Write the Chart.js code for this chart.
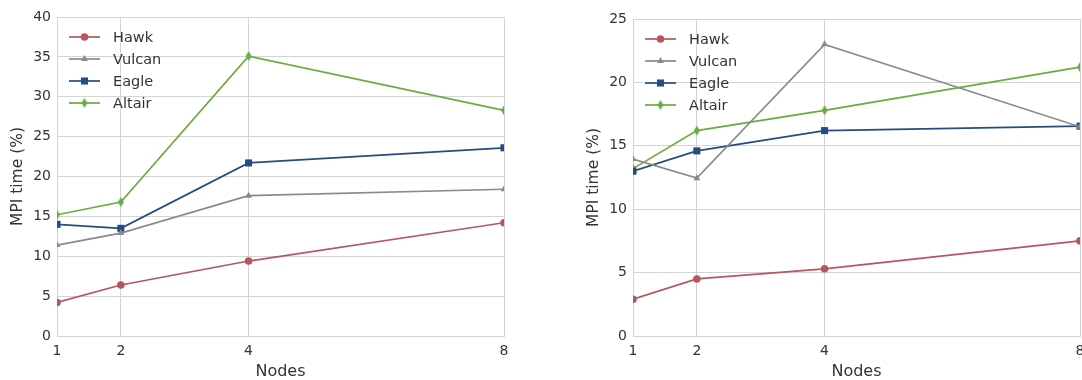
<!DOCTYPE html>
<html>
<head>
<meta charset="utf-8">
<script src="https://cdn.jsdelivr.net/npm/chart.js@4"></script>
<style>
    html, body { margin: 0; padding: 0; background: #fff; overflow: hidden; }
    .wrap { position: absolute; top: 0; height: 380px; overflow: hidden; }
    #leftWrap { left: 0; width: 540px; }
    #rightWrap { left: 576px; width: 506px; }
</style>
</head>
<body>
<div class="wrap" id="leftWrap"><canvas id="leftChart" width="540" height="386"></canvas></div>
<div class="wrap" id="rightWrap"><canvas id="rightChart" width="516" height="386"></canvas></div>
<script>
// data
const nodes = [1, 2, 4, 8];
const seriesNames = ['Hawk', 'Vulcan', 'Eagle', 'Altair'];

const leftHawk = [4.2, 6.4, 9.4, 14.2];
const leftVulcan = [11.4, 12.9, 17.6, 18.4];
const leftEagle = [14.0, 13.5, 21.7, 23.6];
const leftAltair = [15.2, 16.8, 35.1, 28.3];

const rightHawk = [2.9, 4.5, 5.3, 7.5];
const rightVulcan = [13.95, 12.45, 23.0, 16.5];
const rightEagle = [13.0, 14.6, 16.2, 16.55];
const rightAltair = [13.2, 16.2, 17.8, 21.2];

const colors = ['#b5575c', '#8a8a8a', '#264c80', '#6aab3d'];
const gridColor = '#d4d4d4';
const textColor = '#333333';
const fontFamily = '"DejaVu Sans", sans-serif';

// thin diamond marker, like matplotlib 'd'
function thinDiamond(color) {
    const c = document.createElement('canvas');
    c.width = 8;
    c.height = 11;
    const g = c.getContext('2d');
    g.fillStyle = color;
    g.beginPath();
    g.moveTo(4, 0.5);
    g.lineTo(7, 5.5);
    g.lineTo(4, 10.5);
    g.lineTo(1, 5.5);
    g.closePath();
    g.fill();
    return c;
}

const markers = [
    { style: 'circle', radius: 3.8 },
    { style: 'triangle', radius: 4 },
    { style: 'rect', radius: 5 },
    { style: thinDiamond(colors[3]), radius: 4 }
];

function drawMarker(ctx, idx, x, y) {
    const m = markers[idx];
    ctx.fillStyle = colors[idx];
    if (m.style === 'circle') {
        ctx.beginPath();
        ctx.arc(x, y, m.radius, 0, Math.PI * 2);
        ctx.fill();
    } else if (m.style === 'triangle') {
        const r = m.radius;
        ctx.beginPath();
        ctx.moveTo(x, y - r);
        ctx.lineTo(x + r * 0.866, y + r * 0.5);
        ctx.lineTo(x - r * 0.866, y + r * 0.5);
        ctx.closePath();
        ctx.fill();
    } else if (m.style === 'rect') {
        const s = m.radius * Math.SQRT1_2;
        ctx.fillRect(x - s, y - s, 2 * s, 2 * s);
    } else {
        ctx.drawImage(m.style, x - m.style.width / 2, y - m.style.height / 2);
    }
}

// legend drawn inside the plot area, line + marker
const innerLegend = {
    id: 'innerLegend',
    afterDraw(chart) {
        const ctx = chart.ctx;
        const area = chart.chartArea;
        ctx.save();
        ctx.font = '14.5px ' + fontFamily;
        ctx.textBaseline = 'middle';
        seriesNames.forEach((name, i) => {
            const y = area.top + 20 + i * 22;
            const x0 = area.left + 12;
            ctx.strokeStyle = colors[i];
            ctx.lineWidth = 1.7;
            ctx.beginPath();
            ctx.moveTo(x0, y);
            ctx.lineTo(x0 + 31, y);
            ctx.stroke();
            drawMarker(ctx, i, x0 + 15.5, y);
            ctx.fillStyle = textColor;
            ctx.fillText(name, x0 + 44, y + 1);
        });
        ctx.restore();
    }
};

function makeChart(canvasId, values, yMax, padTop, padRight) {
    const ctx = document.getElementById(canvasId).getContext('2d');
    return new Chart(ctx, {
        type: 'line',
        data: {
            datasets: values.map((vals, i) => ({
                label: seriesNames[i],
                data: nodes.map((n, j) => ({ x: n, y: vals[j] })),
                borderColor: colors[i],
                backgroundColor: colors[i],
                borderWidth: 1.7,
                pointStyle: markers[i].style,
                pointRadius: markers[i].radius,
                pointBorderWidth: 0,
                fill: false,
                tension: 0,
                clip: 0
            }))
        },
        options: {
            responsive: false,
            animation: false,
            layout: { padding: { top: padTop, right: padRight, left: 0, bottom: 0 } },
            plugins: {
                legend: { display: false },
                tooltip: { enabled: false }
            },
            scales: {
                x: {
                    type: 'linear',
                    min: 1,
                    max: 8,
                    afterBuildTicks: scale => {
                        scale.ticks = nodes.map(v => ({ value: v }));
                    },
                    afterFit: scale => {
                        scale.height = 50;
                    },
                    grid: { color: gridColor, drawTicks: false },
                    border: { color: gridColor },
                    ticks: {
                        padding: 7,
                        color: textColor,
                        font: { family: fontFamily, size: 14 },
                        maxRotation: 0
                    },
                    title: {
                        display: true,
                        text: 'Nodes',
                        color: textColor,
                        font: { family: fontFamily, size: 16 },
                        padding: { top: 0, bottom: 5 }
                    }
                },
                y: {
                    min: 0,
                    max: yMax,
                    afterFit: scale => {
                        scale.width = 57;
                        scale.paddingTop = 0;
                        scale.paddingBottom = 0;
                    },
                    grid: { color: gridColor, drawTicks: false },
                    border: { color: gridColor },
                    ticks: {
                        stepSize: 5,
                        padding: 6,
                        color: textColor,
                        font: { family: fontFamily, size: 14 }
                    },
                    title: {
                        display: true,
                        text: 'MPI time (%)',
                        color: textColor,
                        font: { family: fontFamily, size: 15.5 },
                        padding: { top: 8.5, bottom: 0 }
                    }
                }
            }
        },
        plugins: [innerLegend]
    });
}

makeChart('leftChart', [leftHawk, leftVulcan, leftEagle, leftAltair], 40, 17, 36);
makeChart('rightChart', [rightHawk, rightVulcan, rightEagle, rightAltair], 25, 19, 12);
</script>
</body>
</html>
